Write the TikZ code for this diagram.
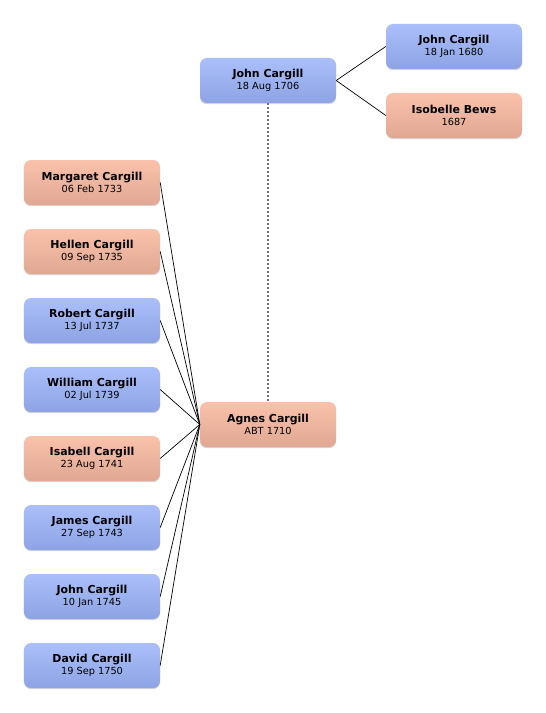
\documentclass[tikz,border=0pt]{standalone}
\usepackage{fontspec}
\setmainfont{DejaVu Sans}
\usetikzlibrary{shadows}
\definecolor{bluetop}{HTML}{AABFFA}
\definecolor{bluebot}{HTML}{8DA3E4}
\definecolor{pinktop}{HTML}{FAC1AB}
\definecolor{pinkbot}{HTML}{E0A792}
\tikzset{
  person/.style={rounded corners=7bp, minimum width=136bp, minimum height=45bp,
    inner sep=0pt, align=center, draw=none,
    drop shadow={shadow xshift=0bp, shadow yshift=-1.2bp, opacity=0.35, fill=black!45}},
  male/.style={person, top color=bluetop, bottom color=bluebot},
  female/.style={person, top color=pinktop, bottom color=pinkbot},
  link/.style={draw=black, line width=0.7bp},
  spouse/.style={draw=black!55, line width=1.2bp, dash pattern=on 2bp off 2bp}
}
\newcommand{\pname}[2]{{\fontsize{11}{13}\selectfont\bfseries #1}\\[0.5bp]{\fontsize{9.8}{11}\selectfont #2}}
\begin{document}
\begin{tikzpicture}[x=1bp,y=-1bp]
\useasboundingbox[fill=white] (0,0) rectangle (546,713);
\node[male] (john) at (268,80.5) {\pname{John Cargill}{18 Aug 1706}};
\node[male] (jfather) at (454,46.5) {\pname{John Cargill}{18 Jan 1680}};
\node[female] (jmother) at (454,115.5) {\pname{Isobelle Bews}{1687}};
\node[female] (agnes) at (268,424.5) {\pname{Agnes Cargill}{ABT 1710}};
\node[female] (c1) at (92,182.5) {\pname{Margaret Cargill}{06 Feb 1733}};
\node[female] (c2) at (92,251.5) {\pname{Hellen Cargill}{09 Sep 1735}};
\node[male] (c3) at (92,320.5) {\pname{Robert Cargill}{13 Jul 1737}};
\node[male] (c4) at (92,389.5) {\pname{William Cargill}{02 Jul 1739}};
\node[female] (c5) at (92,458.5) {\pname{Isabell Cargill}{23 Aug 1741}};
\node[male] (c6) at (92,527.5) {\pname{James Cargill}{27 Sep 1743}};
\node[male] (c7) at (92,596.5) {\pname{John Cargill}{10 Jan 1745}};
\node[male] (c8) at (92,665.5) {\pname{David Cargill}{19 Sep 1750}};
\draw[link] (john.east) -- (jfather.west);
\draw[link] (john.east) -- (jmother.west);
\draw[spouse] (john.south) -- (agnes.north);
\foreach \c in {c1,c2,c3,c4,c5,c6,c7,c8}
  \draw[link] (\c.east) -- (agnes.west);
\end{tikzpicture}
\end{document}
